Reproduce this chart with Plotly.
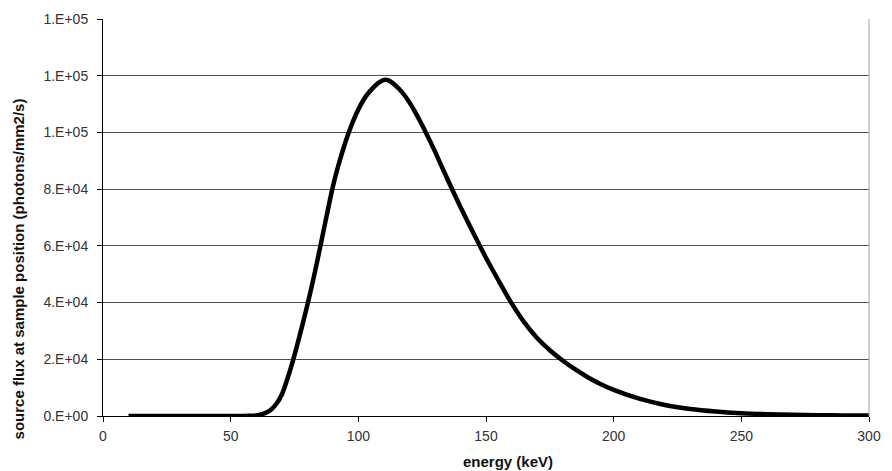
import plotly.graph_objects as go

energy_kev = [10, 20, 30, 40, 50, 55, 57, 60, 62, 64, 66, 68, 70, 72, 74, 76, 78, 80,
              82, 84, 86, 88, 90, 92, 94, 96, 98, 100.5, 103, 106, 108, 110, 112, 114,
              116, 118, 120, 122, 124, 126, 128, 130, 135, 140, 145, 150, 155, 160, 165,
              170, 175, 180, 185, 190, 195, 200, 210, 220, 230, 240, 250, 260, 270, 280,
              290, 300]
flux = [0, 0, 0, 0, 0, 0, 50, 200, 550, 1200, 2400, 4400, 7500, 12500, 18300, 24800,
        31800, 39000, 46700, 55000, 63700, 72400, 80800, 87800, 93900, 99400, 104100,
        109000, 112800, 116000, 117600, 118500, 118300, 117000, 115300, 113200, 110600,
        107600, 104300, 100800, 97100, 93300, 83300, 73700, 64600, 55800, 47600, 39800,
        33000, 27500, 23200, 19600, 16400, 13600, 11200, 9200, 6100, 3900, 2500, 1600,
        1000, 650, 430, 300, 220, 170]

y_tickvals = [0, 20000, 40000, 60000, 80000, 100000, 120000, 140000]
y_ticktext = ["0.E+00", "2.E+04", "4.E+04", "6.E+04", "8.E+04", "1.E+05", "1.E+05", "1.E+05"]
x_tickvals = [0, 50, 100, 150, 200, 250, 300]

font_family = "Liberation Sans, Arial, sans-serif"

fig = go.Figure()
fig.add_trace(go.Scatter(
    x=energy_kev, y=flux, mode="lines",
    line=dict(color="black", width=4.5, shape="spline", smoothing=0.8),
    showlegend=False, hoverinfo="x+y",
))

fig.update_layout(
    width=892, height=471,
    margin=dict(l=103, r=11, t=19, b=55),
    paper_bgcolor="white", plot_bgcolor="white",
    font=dict(family=font_family, size=14, color="#222"),
    xaxis=dict(
        range=[0, 300], tickvals=x_tickvals, ticks="outside", ticklen=5,
        tickcolor="black", showline=True, linecolor="black", linewidth=1,
        showgrid=False, zeroline=False, ticklabeloverflow="allow",
        tickfont=dict(size=14, color="#333"), ticklabelstandoff=2,
    ),
    yaxis=dict(
        range=[0, 140000], tickvals=y_tickvals, ticktext=y_ticktext, ticks="outside",
        ticklen=5, tickcolor="black", showline=True, linecolor="black", linewidth=1,
        showgrid=True, gridcolor="#505050", gridwidth=1, zeroline=False,
        tickfont=dict(size=14, color="#333"), ticklabelstandoff=6,
    ),
    shapes=[dict(type="line", xref="paper", yref="paper", x0=1, x1=1, y0=0, y1=1,
                 line=dict(color="#a0a0a0", width=1))],
    annotations=[
        dict(text="<b>energy (keV)</b>", xref="paper", yref="paper",
             x=0.5285, y=-0.115, xanchor="center", yanchor="middle", showarrow=False,
             font=dict(size=15, color="#111", family=font_family)),
        dict(text="<b>source flux at sample position (photons/mm2/s)</b>",
             xref="paper", yref="paper", x=-0.1105, y=0.37, xanchor="center",
             yanchor="middle", textangle=-90, showarrow=False,
             font=dict(size=15, color="#111", family=font_family)),
    ],
)

fig.write_html("out.html")
